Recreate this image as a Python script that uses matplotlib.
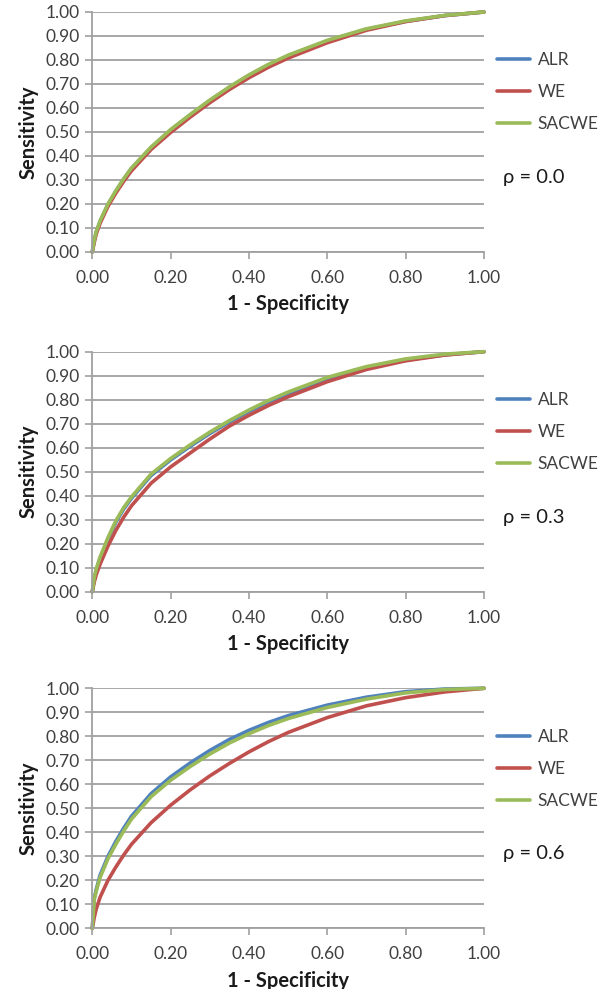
import matplotlib
matplotlib.use("Agg")
import matplotlib.pyplot as plt

# ---------------- data ----------------
fpr = [0.0, 0.005, 0.01, 0.02, 0.04, 0.06, 0.08, 0.10, 0.15, 0.20, 0.25,
       0.30, 0.35, 0.40, 0.45, 0.50, 0.60, 0.70, 0.80, 0.90, 1.00]

# rho = 0.0
alr_00   = [0, 0.048, 0.083, 0.128, 0.198, 0.253, 0.303, 0.348, 0.435, 0.508, 0.571,
            0.631, 0.686, 0.736, 0.780, 0.818, 0.880, 0.928, 0.961, 0.985, 1.0]
we_00    = [0, 0.040, 0.075, 0.120, 0.190, 0.245, 0.294, 0.338, 0.427, 0.498, 0.562,
            0.622, 0.677, 0.726, 0.770, 0.808, 0.872, 0.924, 0.960, 0.985, 1.0]
sacwe_00 = [0, 0.050, 0.085, 0.130, 0.200, 0.255, 0.305, 0.350, 0.437, 0.510, 0.573,
            0.633, 0.688, 0.738, 0.782, 0.820, 0.882, 0.930, 0.963, 0.986, 1.0]

# rho = 0.3
alr_03   = [0, 0.054, 0.089, 0.139, 0.219, 0.289, 0.344, 0.389, 0.484, 0.549, 0.606,
            0.659, 0.707, 0.751, 0.791, 0.826, 0.887, 0.932, 0.965, 0.987, 1.0]
we_03    = [0, 0.040, 0.070, 0.115, 0.190, 0.255, 0.310, 0.358, 0.452, 0.520, 0.578,
            0.636, 0.690, 0.735, 0.776, 0.812, 0.875, 0.926, 0.962, 0.986, 1.0]
sacwe_03 = [0, 0.060, 0.095, 0.145, 0.225, 0.295, 0.350, 0.395, 0.490, 0.555, 0.612,
            0.665, 0.713, 0.757, 0.797, 0.832, 0.893, 0.938, 0.970, 0.990, 1.0]

# rho = 0.6
alr_06   = [0, 0.125, 0.162, 0.222, 0.300, 0.362, 0.417, 0.467, 0.561, 0.631, 0.689,
            0.741, 0.787, 0.825, 0.858, 0.886, 0.930, 0.963, 0.986, 0.997, 1.0]
we_06    = [0, 0.045, 0.080, 0.130, 0.200, 0.255, 0.305, 0.350, 0.440, 0.513, 0.577,
            0.635, 0.687, 0.735, 0.778, 0.816, 0.878, 0.927, 0.961, 0.985, 1.0]
sacwe_06 = [0, 0.120, 0.155, 0.212, 0.290, 0.350, 0.405, 0.455, 0.548, 0.617, 0.674,
            0.726, 0.772, 0.811, 0.845, 0.874, 0.920, 0.955, 0.981, 0.995, 1.0]

series_names = ["ALR", "WE", "SACWE"]
panel_labels = ["\u03c1 = 0.0", "\u03c1 = 0.3", "\u03c1 = 0.6"]
panels = [(alr_00, we_00, sacwe_00), (alr_03, we_03, sacwe_03), (alr_06, we_06, sacwe_06)]
ticks = [0.0, 0.1, 0.2, 0.3, 0.4, 0.5, 0.6, 0.7, 0.8, 0.9, 1.0]
xticks = [0.0, 0.2, 0.4, 0.6, 0.8, 1.0]

# ---------------- style ----------------
plt.rcParams['font.family'] = ['Lato', 'DejaVu Sans']
colors = ["#4F81BD", "#C0504D", "#9BBB59"]
grid_c = "#a0a0a0"
txt_c = "#404040"

W, H = 605, 989
fig = plt.figure(figsize=(W / 100, H / 100), dpi=100)

left = 92.3 / W
width = 391.7 / W
tops = [12.0, 351.7, 688.3]
hpx = 240.0

for i, (series, lab) in enumerate(zip(panels, panel_labels)):
    bottom = 1 - (tops[i] + hpx) / H
    ax = fig.add_axes([left, bottom, width, hpx / H])
    ax.set_xlim(0, 1)
    ax.set_ylim(0, 1)
    ax.set_yticks(ticks)
    ax.set_xticks(xticks)
    ax.set_yticklabels([f"{t:.2f}" for t in ticks])
    ax.set_xticklabels([f"{t:.2f}" for t in xticks])
    ax.yaxis.grid(True, color=grid_c, lw=1.3)
    ax.xaxis.grid(False)
    ax.set_axisbelow(True)
    for s in ["top", "right"]:
        ax.spines[s].set_visible(False)
    for s in ["left", "bottom"]:
        ax.spines[s].set_color(grid_c)
        ax.spines[s].set_linewidth(1.3)
    ax.tick_params(axis='both', direction='out', length=5, width=1.2,
                   color=grid_c, labelsize=12.5, labelcolor=txt_c)
    ax.tick_params(axis='y', pad=4)
    ax.tick_params(axis='x', pad=8)

    handles = []
    for vals, name, c in zip(series, series_names, colors):
        ln, = ax.plot(fpr, vals, color=c, lw=2.6, label=name, clip_on=False,
                      solid_capstyle='round', solid_joinstyle='round')
        handles.append(ln)

    ax.set_ylabel("Sensitivity", fontsize=14.5, fontweight='bold', color='#1a1a1a', labelpad=5)
    ax.set_xlabel("1 - Specificity", fontsize=14.5, fontweight='bold', color='#1a1a1a', labelpad=6)

    ax.legend(handles=handles, loc='center left', bbox_to_anchor=(1.033, 0.665),
              frameon=False, fontsize=12.5, handlelength=1.9, handletextpad=0.45,
              labelspacing=0.92, borderpad=0, borderaxespad=0,
              labelcolor=txt_c)
    ax.text(1.0485, 0.31, lab, transform=ax.transAxes, fontsize=14.5,
            color='#1a1a1a', ha='left', va='center')

fig.savefig("out.png", dpi=100)
